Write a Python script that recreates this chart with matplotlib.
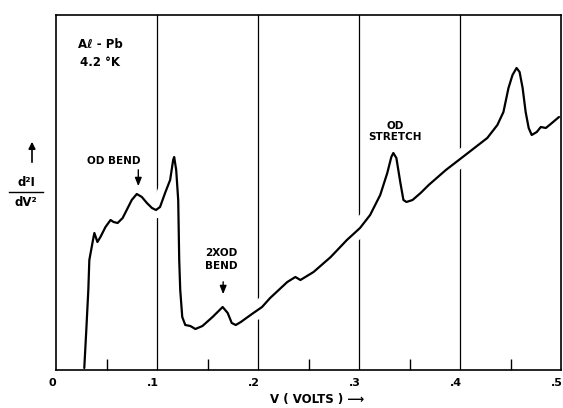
import matplotlib
matplotlib.use("Agg")
import matplotlib.pyplot as plt
import matplotlib.patheffects as pe
import matplotlib.transforms as mtransforms
from matplotlib.lines import Line2D
from matplotlib.patches import FancyArrowPatch
from matplotlib.ticker import MultipleLocator, FixedLocator

# Bias voltage (V) and d2I/dV2 (arbitrary units)
volts = [0.028, 0.030, 0.032, 0.033, 0.037, 0.038, 0.041, 0.044, 0.049, 0.054,
         0.057, 0.061, 0.066, 0.070, 0.075, 0.080, 0.085, 0.090, 0.095, 0.099,
         0.103, 0.108, 0.113, 0.116, 0.117, 0.119, 0.121, 0.122, 0.123, 0.125,
         0.128, 0.133, 0.138, 0.145, 0.155, 0.165, 0.170, 0.174, 0.178, 0.183,
         0.194, 0.204, 0.212, 0.229, 0.237, 0.242, 0.255, 0.272, 0.288, 0.301,
         0.311, 0.321, 0.328, 0.332, 0.334, 0.337, 0.341, 0.344, 0.347, 0.353,
         0.361, 0.369, 0.386, 0.404, 0.427, 0.437, 0.443, 0.448, 0.452, 0.456,
         0.459, 0.462, 0.465, 0.468, 0.471, 0.476, 0.480, 0.485, 0.491, 0.498]
signal = [2, 40, 80, 110, 132, 137, 128, 133, 143, 150,
          148, 147, 152, 160, 170, 176, 173, 167, 162, 160,
          163, 177, 190, 210, 213, 200, 170, 110, 80, 53,
          45, 44, 41, 44, 53, 63, 57, 47, 45, 48,
          56, 63, 72, 88, 93, 90, 98, 113, 130, 142,
          155, 175, 197, 213, 217, 212, 187, 170, 168, 170,
          177, 185, 200, 214, 232, 245, 258, 282, 295, 302,
          298, 282, 258, 242, 235, 238, 243, 242, 247, 253]

tick_values = [0.0, 0.1, 0.2, 0.3, 0.4, 0.5]
tick_labels = ["0", ".1", ".2", ".3", ".4", ".5"]

fig = plt.figure(figsize=(5.63, 4.08), dpi=100)
ax = fig.add_axes([56/563, 1 - 370/408, 505/563, 355/408])

ax.set_xlim(0, 0.5)
ax.set_ylim(0, 355)

ax.plot(volts, signal, color="black", lw=1.6, solid_joinstyle="round",
        solid_capstyle="round", zorder=3,
        path_effects=[pe.Stroke(linewidth=12, foreground="white"), pe.Normal()])

for v in tick_values[1:-1]:
    ax.axvline(v, color="black", lw=0.9, zorder=1)

for s in ax.spines.values():
    s.set_linewidth(1.2)
    s.set_zorder(4)

ax.xaxis.set_major_locator(FixedLocator(tick_values))
ax.set_xticklabels(tick_labels, fontsize=8, fontweight="bold")
ax.xaxis.set_minor_locator(MultipleLocator(0.05))
ax.tick_params(axis="x", which="major", length=0, pad=6)
ax.tick_params(axis="x", which="minor", direction="in", length=8, width=1.0)
ax.set_yticks([])
shift = mtransforms.ScaledTranslation(-4/100, 0, fig.dpi_scale_trans)
for lbl in ax.get_xticklabels():
    lbl.set_transform(lbl.get_transform() + shift)

tk = dict(fontsize=7.5, fontweight="bold", ha="center", va="center", zorder=6)
ax.text(0.044, 370 - 44, "A\u2113 - Pb", **{**tk, "fontsize": 8.5})
ax.text(0.044, 370 - 62, "4.2 \u00b0K", **{**tk, "fontsize": 8.5})
ax.text(0.057, 370 - 161, "OD BEND", **tk)
ax.text(0.164, 370 - 253, "2XOD", **tk)
ax.text(0.164, 370 - 266, "BEND", **tk)
ax.text(0.336, 370 - 126, "OD", **tk)
ax.text(0.336, 370 - 137, "STRETCH", **tk)

arr = dict(arrowstyle="-|>,head_length=0.5,head_width=0.2", color="black", lw=1.0)
ax.annotate("", xy=(0.0815, 370 - 189), xytext=(0.0815, 370 - 167),
            arrowprops=arr, zorder=6)
ax.annotate("", xy=(0.1655, 370 - 297), xytext=(0.1655, 370 - 279),
            arrowprops=arr, zorder=6)

# y label: arrow and fraction
fig.text(26/563, 1 - 183/408, "d\u00b2I", fontsize=8.5, fontweight="bold",
         ha="center", va="center")
fig.text(26/563, 1 - 203/408, "dV\u00b2", fontsize=8.5, fontweight="bold",
         ha="center", va="center")
fig.add_artist(Line2D([9/563, 43/563], [1 - 192/408, 1 - 192/408],
                      color="black", lw=1.0))
fig.add_artist(FancyArrowPatch(
    (32/563, 1 - 165/408), (32/563, 1 - 139/408),
    transform=fig.transFigure, arrowstyle="-|>,head_length=4,head_width=2",
    color="black", lw=1.2))

ax.set_xlabel("V ( VOLTS ) \u27f6", fontsize=8.5, fontweight="bold", labelpad=3)
ax.xaxis.label.set_x(0.518)

fig.savefig("out.png", dpi=100)
